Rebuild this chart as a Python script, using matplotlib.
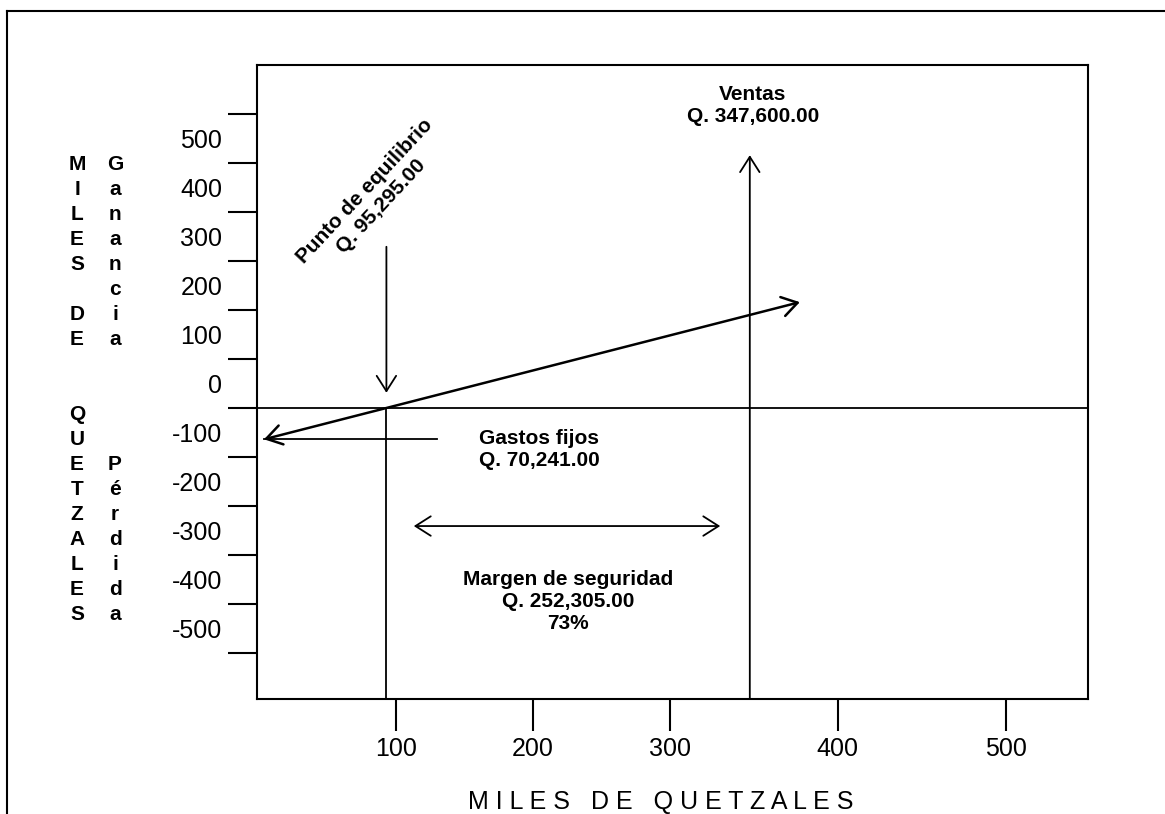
import matplotlib
matplotlib.use("Agg")
import matplotlib.pyplot as plt
from matplotlib.patches import FancyArrowPatch
from matplotlib.lines import Line2D
import numpy as np

plt.rcParams['font.family'] = ['Liberation Sans', 'DejaVu Sans']

# data (miles de quetzales)
x_ticks = [100, 200, 300, 400, 500]
y_ticks = list(range(-500, 601, 100))
y_labels = [500, 400, 300, 200, 100, 0, -100, -200, -300, -400, -500]

punto_equilibrio = 93
ventas = 347.6
ventas_top = 516
punto_top = 329
punto_tip = 31
utilidad_x = [3.6, 377.4]
utilidad_y = [-64, 216]
gastos_x = [3.6, 130]
gastos_y = -64
margen_x = [113, 330]
margen_y = -241

left_col = "MILES DE  QUETZALES"
right_col = "Ganancia    Pérdida"

# scale of the hand-drawn x axis is not uniform
x_nodes = [-100, 0, 300, 500, 700]
x_pos = [-137, 0, 411, 747, 1083]

def fwd(v):
    return np.interp(v, x_nodes, x_pos)

def inv(v):
    return np.interp(v, x_pos, x_nodes)

W, H = 1165, 814
fig = plt.figure(figsize=(W / 100, H / 100), dpi=100)
ax = fig.add_axes([257 / W, 1 - 699 / H, (1088 - 257) / W, (699 - 65) / H])
ax.set_xscale('function', functions=(fwd, inv))
ax.set_xlim(-1.5, 549)
ax.set_ylim(-594, 700)

for s in ax.spines.values():
    s.set_linewidth(1.5)

ax.set_xticks(x_ticks)
ax.set_xticklabels([str(v) for v in x_ticks])
ax.tick_params(axis='x', direction='out', length=23, width=1.5, labelsize=18, pad=4)
ax.xaxis.set_minor_locator(plt.NullLocator())

ax.set_yticks(y_ticks)
ax.set_yticklabels([])
ax.set_yticks([v + 50 for v in y_labels], minor=True)
ax.set_yticklabels([str(v) for v in y_labels], minor=True)
ax.tick_params(axis='y', which='major', direction='out', length=21, width=1.5)
ax.tick_params(axis='y', which='minor', length=0, labelsize=18, pad=25)

lw = 1.3
ax.axhline(0, color='black', lw=lw)
ax.plot([punto_equilibrio, punto_equilibrio], [-594, 0], color='black', lw=lw)
ax.plot(gastos_x, [gastos_y, gastos_y], color='black', lw=lw)

def arrow(p1, p2, style, width=lw):
    a = FancyArrowPatch(p1, p2, arrowstyle=style + ",head_length=0.55,head_width=0.35",
                        mutation_scale=20, color='black', lw=width,
                        shrinkA=0, shrinkB=0)
    ax.add_patch(a)

arrow((punto_equilibrio, punto_top), (punto_equilibrio, punto_tip), '->')
arrow((ventas, -594), (ventas, ventas_top), '->')
arrow((utilidad_x[0], utilidad_y[0]), (utilidad_x[1], utilidad_y[1]), '<->', 1.8)
arrow((margen_x[0], margen_y), (margen_x[1], margen_y), '<->')

bold = dict(fontsize=15, fontweight='bold', color='black')
ax.text(349.4, 617, "Ventas\nQ. 347,600.00", ha='center', va='center',
        multialignment='center', **bold)
ax.text(83, 427, "Punto de equilibrio\nQ. 95,295.00", ha='center', va='center',
        multialignment='center', rotation=47, rotation_mode='anchor', **bold)
ax.text(160.6, -84, "Gastos fijos\nQ. 70,241.00", ha='left', va='center',
        multialignment='left', **bold)
ax.text(225.5, -394, "Margen de seguridad\nQ. 252,305.00\n73%", ha='center', va='center',
        multialignment='center', **bold)

xlabel = "   ".join(" ".join(w) for w in "MILES DE QUETZALES".split())
fig.text(661 / W, 1 - 802 / H, xlabel, ha='center', va='center', fontsize=18)

# stacked letters on the left
for i, ch in enumerate(left_col):
    fig.text(77 / W, 1 - (170 + 25 * i) / H, ch, ha='center', va='baseline', **bold)
for i, ch in enumerate(right_col):
    fig.text(115 / W, 1 - (170 + 25 * i) / H, ch, ha='center', va='baseline', **bold)

# outer frame
fig.add_artist(Line2D([7 / W, 7 / W], [0, 1 - 11 / H], color='black', lw=1.5))
fig.add_artist(Line2D([7 / W, 1], [1 - 11 / H, 1 - 11 / H], color='black', lw=1.5))

fig.savefig("out.png", dpi=100)
